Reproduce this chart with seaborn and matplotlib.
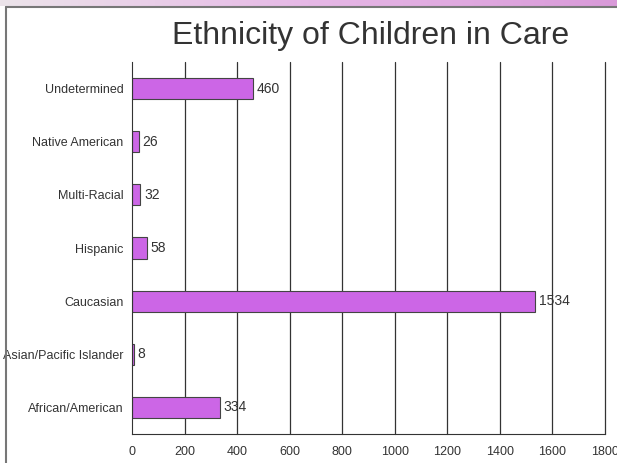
import numpy as np
import matplotlib
matplotlib.use("Agg")
import matplotlib.pyplot as plt
import pandas as pd
import seaborn as sns

# data
categories = ['Undetermined', 'Native American', 'Multi-Racial', 'Hispanic',
              'Caucasian', 'Asian/Pacific Islander', 'African/American']
counts = [460, 26, 32, 58, 1534, 8, 334]
x_ticks = [0, 200, 400, 600, 800, 1000, 1200, 1400, 1600, 1800]

df = pd.DataFrame({'ethnicity': categories, 'count': counts})

sns.set_theme(style='white')
plt.rcParams['font.family'] = ['Liberation Sans', 'DejaVu Sans']

fig = plt.figure(figsize=(6.17, 4.63), dpi=100)
fig.patch.set_facecolor('white')

# pinkish strip at the top of the slide + frame line
strip = fig.add_axes([0, 1 - 6 / 463, 1, 6 / 463])
grad = np.linspace(0, 1, 256).reshape(1, -1)
cmap = matplotlib.colors.LinearSegmentedColormap.from_list('strip', ['#ece4ea', '#e6b8e6', '#d99ad9'])
strip.imshow(grad, aspect='auto', cmap=cmap, extent=[0, 1, 0, 1])
strip.axis('off')
fig.add_artist(plt.Line2D([6 / 617, 6 / 617], [0, 1 - 7 / 463], color='#777777', lw=1.5))
fig.add_artist(plt.Line2D([6 / 617, 1], [1 - 7 / 463, 1 - 7 / 463], color='#777777', lw=1.5))

ax = fig.add_axes([132 / 617, 1 - 434 / 463, 473 / 617, 372 / 463])
sns.barplot(data=df, x='count', y='ethnicity', color='#cc66e6', saturation=1,
            width=0.4, edgecolor='#444444', linewidth=0.8, ax=ax)

ax.set_xlim(0, 1800)
ax.set_ylim(6.5, -0.5)
ax.set_xticks(x_ticks)
ax.set_xticklabels([str(t) for t in x_ticks], fontsize=9, color='#333333')
ax.tick_params(axis='x', length=5, width=0.8, color='#333333', direction='inout', pad=6)
ax.tick_params(axis='y', which='major', length=0, labelsize=9, labelcolor='#333333', pad=6)
ax.set_yticks(np.arange(-0.5, 7, 1), minor=True)
ax.tick_params(axis='y', which='minor', length=5, width=0.8, color='#333333')
ax.set_xlabel('')
ax.set_ylabel('')

for t in x_ticks[1:]:
    ax.axvline(t, color='#333333', lw=0.9, zorder=0, clip_on=False)

for s in ['top', 'right']:
    ax.spines[s].set_visible(False)
ax.spines['left'].set_color('#333333')
ax.spines['bottom'].set_color('#333333')
ax.spines['left'].set_linewidth(0.8)
ax.spines['bottom'].set_linewidth(0.8)

for i, v in enumerate(counts):
    ax.text(v + 14, i, str(v), va='center', ha='left', fontsize=10, color='#333333')

fig.text(371 / 617, 1 - 36 / 463, 'Ethnicity of Children in Care', ha='center', va='center',
         fontsize=23, color='#333333')

fig.savefig('out.png', dpi=100)
